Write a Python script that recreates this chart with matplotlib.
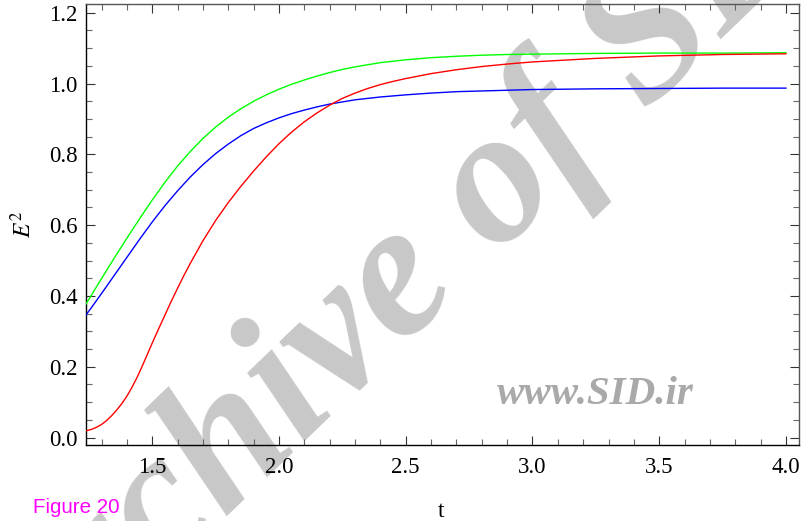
import matplotlib
matplotlib.use("Agg")
import matplotlib.pyplot as plt
from matplotlib.ticker import MultipleLocator

plt.rcParams['font.family'] = ['Liberation Serif', 'DejaVu Serif']
plt.rcParams['mathtext.fontset'] = 'stix'

# time samples for the green and blue curves
t_gb = [1.238, 1.26, 1.28, 1.30, 1.35, 1.40, 1.45, 1.50, 1.55, 1.60, 1.65, 1.70,
        1.75, 1.80, 1.85, 1.90, 1.95, 2.00, 2.05, 2.10, 2.15, 2.20, 2.25, 2.30,
        2.35, 2.40, 2.45, 2.50, 2.6, 2.7, 2.8, 2.9, 3.0, 3.25, 3.5, 3.75, 4.0]
e2_green = [0.377, 0.402, 0.426, 0.449, 0.507, 0.563, 0.618, 0.671, 0.721, 0.767,
            0.808, 0.845, 0.877, 0.905, 0.929, 0.950, 0.968, 0.984, 0.998, 1.010,
            1.021, 1.031, 1.040, 1.047, 1.053, 1.059, 1.063, 1.067, 1.073, 1.077,
            1.080, 1.082, 1.083, 1.085, 1.086, 1.086, 1.087]
e2_blue = [0.346, 0.367, 0.387, 0.407, 0.458, 0.509, 0.560, 0.609, 0.655, 0.697,
           0.736, 0.771, 0.802, 0.829, 0.853, 0.873, 0.889, 0.903, 0.915, 0.925,
           0.934, 0.942, 0.948, 0.954, 0.958, 0.962, 0.965, 0.968, 0.973, 0.977,
           0.979, 0.981, 0.983, 0.985, 0.986, 0.987, 0.987]

# red curve needs finer sampling at the foot
t_red = [1.238, 1.26, 1.28, 1.30, 1.32, 1.34, 1.36, 1.38, 1.40, 1.42, 1.44, 1.46,
         1.48, 1.50, 1.525, 1.55, 1.575, 1.60, 1.625, 1.65, 1.70, 1.75, 1.80,
         1.85, 1.90, 1.95, 2.00, 2.05, 2.10, 2.15, 2.20, 2.25, 2.30, 2.35, 2.40,
         2.45, 2.50, 2.6, 2.7, 2.8, 2.9, 3.0, 3.25, 3.5, 3.75, 4.0]
e2_red = [0.019, 0.023, 0.029, 0.037, 0.048, 0.062, 0.078, 0.096, 0.117, 0.142,
          0.170, 0.201, 0.234, 0.267, 0.307, 0.346, 0.385, 0.422, 0.458, 0.492,
          0.556, 0.613, 0.664, 0.710, 0.753, 0.793, 0.830, 0.863, 0.892, 0.917,
          0.939, 0.958, 0.973, 0.986, 0.997, 1.006, 1.014, 1.028, 1.039, 1.048,
          1.055, 1.061, 1.071, 1.078, 1.082, 1.084]

fig = plt.figure(figsize=(8.03, 5.21), dpi=100)
ax = fig.add_axes([0.1071, 0.1459, 0.8879, 0.8464])

ax.plot(t_gb, e2_green, color='#00ff00', lw=1.0, zorder=3)
ax.plot(t_gb, e2_blue, color='#0000ff', lw=1.0, zorder=3)
ax.plot(t_red, e2_red, color='#ff0000', lw=1.0, zorder=3)

ax.set_xlim(1.2386, 4.0515)
ax.set_ylim(-0.021, 1.2246)

ax.xaxis.set_major_locator(MultipleLocator(0.5))
ax.xaxis.set_minor_locator(MultipleLocator(0.1))
ax.yaxis.set_major_locator(MultipleLocator(0.2))
ax.yaxis.set_minor_locator(MultipleLocator(0.05))
ax.xaxis.set_major_formatter(lambda v, p: f"{v:.1f}")
ax.yaxis.set_major_formatter(lambda v, p: f"{v:.1f}")

ax.tick_params(which='both', direction='in', top=True, right=True,
               labelsize=16.5, width=0.8, color='#333333')
ax.tick_params(which='major', length=6.5)
ax.tick_params(which='minor', length=4, color='#666666')
ax.tick_params(axis='x', pad=9)
ax.tick_params(axis='y', pad=6)

for side in ['left', 'bottom']:
    ax.spines[side].set_linewidth(1.0)
    ax.spines[side].set_color('black')
for side in ['top', 'right']:
    ax.spines[side].set_linewidth(1.0)
    ax.spines[side].set_color('#555555')

ax.set_xlabel('t', fontsize=17)
ax.xaxis.set_label_coords(0.498, -0.128)
ax.set_ylabel('$E^2$', fontsize=17)
ax.yaxis.set_label_coords(-0.07, 0.5)

# site watermark
ax.text(0.52, 0.47, 'Archive of SID', transform=fig.transFigure,
        fontsize=138, fontweight='bold', fontstyle='italic', color='#c8c8c8',
        rotation=44, rotation_mode='anchor', ha='center', va='center',
        clip_on=False, zorder=1)
ax.text(0.619, 0.225, 'www.SID.ir', transform=fig.transFigure,
        fontsize=29.5, fontweight='bold', fontstyle='italic', color='#a9a9a9',
        ha='left', va='baseline', zorder=1)

fig.text(0.041, 0.015, 'Figure 20', color='#ff00ff', fontsize=14.8,
         family=['Liberation Sans', 'DejaVu Sans'])

fig.savefig('out.png', dpi=100)
